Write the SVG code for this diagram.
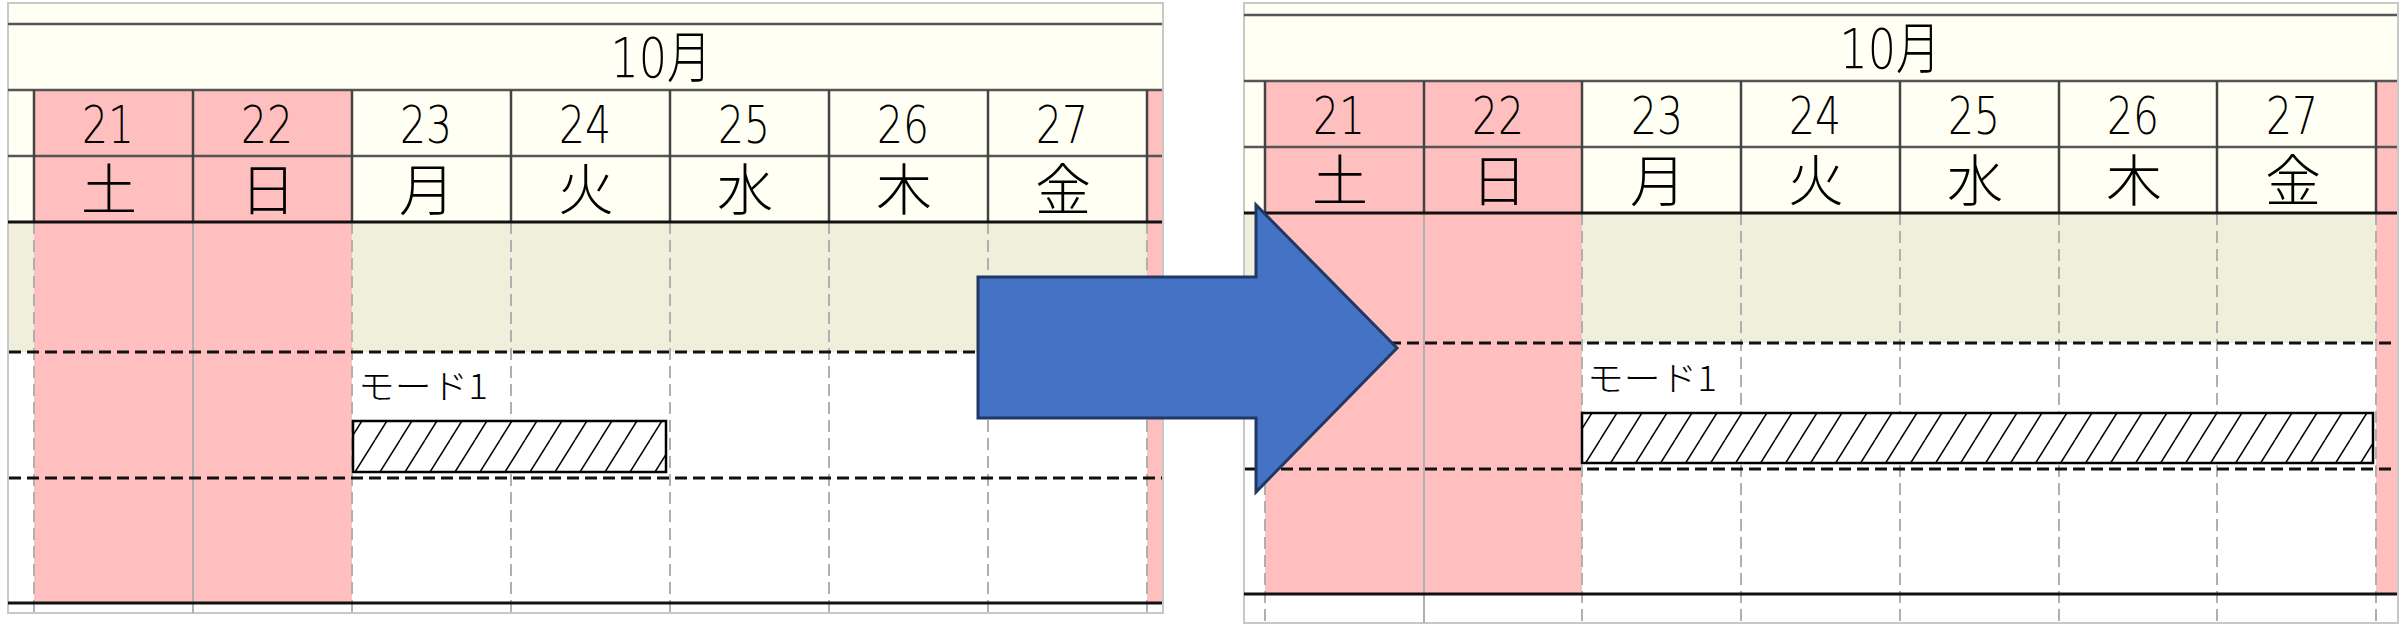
<svg xmlns="http://www.w3.org/2000/svg" width="2404" height="625" viewBox="0 0 2404 625">
<style>
.t{font-family:"DejaVu Sans","Noto Sans CJK JP",sans-serif;fill:#000;font-weight:200}
.mon{font-size:56px}
.num{font-size:52px}
.wd{font-size:56px;font-family:"Noto Sans CJK JP",sans-serif;font-weight:300}
.lbl{font-size:34px;font-family:"Noto Sans CJK JP",sans-serif;font-weight:300}
.border{fill:#fff;stroke:#c8c8c8;stroke-width:2}
.cream{fill:#fffff4}
.pink{fill:#ffbfbf}
.beige{fill:#efefdb}
.hl{stroke:#555;stroke-width:2.5;fill:none}
.hv{stroke:#444;stroke-width:2.5;fill:none}
.blk{stroke:#111;stroke-width:3;fill:none}
.dsh{stroke:#111;stroke-width:3;stroke-dasharray:12 6;fill:none}
.gd{stroke:#b0b0b0;stroke-width:2;stroke-dasharray:12 6;fill:none}
.gs{stroke:#b0b0b0;stroke-width:2;fill:none}
.bar{fill:url(#hatch);stroke:#000;stroke-width:2.5}
</style>
<defs>
<pattern id="hatch" patternUnits="userSpaceOnUse" width="25" height="40">
<rect width="25" height="40" fill="#fff"/>
<path d="M-25,40 L0,0 M0,40 L25,0 M25,40 L50,0" stroke="#000" stroke-width="1.5"/>
</pattern>
</defs>

<g id="left-panel">
<rect class="border" x="8" y="3" width="1155" height="610"/>
<rect class="cream" x="9" y="4" width="1153" height="218"/>
<rect class="pink" x="34" y="90" width="318" height="513"/>
<rect class="pink" x="1147" y="90" width="15" height="513"/>
<rect class="beige" x="9" y="222" width="25" height="130"/>
<rect class="beige" x="352" y="222" width="795" height="130"/>
<line class="hl" x1="8" y1="24" x2="1162" y2="24"/>
<line class="hl" x1="8" y1="90" x2="1162" y2="90"/>
<line class="hl" x1="8" y1="156" x2="1162" y2="156"/>
<path class="hv" d="M34,90V222M193,90V222M352,90V222M511,90V222M670,90V222M829,90V222M988,90V222M1147,90V222"/>
<path class="gd" d="M34,222V613M352,222V613M511,222V613M670,222V613M829,222V613M988,222V613M1147,222V613"/>
<path class="gs" d="M193,222V613"/>
<line class="dsh" x1="9" y1="352" x2="1162" y2="352"/>
<line class="dsh" x1="9" y1="478" x2="1162" y2="478"/>
<line class="blk" x1="8" y1="222" x2="1162" y2="222"/>
<line class="blk" x1="8" y1="603" x2="1162" y2="603"/>
<text class="t mon" x="661" y="77" text-anchor="middle" textLength="101" lengthAdjust="spacingAndGlyphs">10月</text>
<g class="t num" text-anchor="middle">
<text x="108" y="143" textLength="52" lengthAdjust="spacingAndGlyphs">21</text>
<text x="267" y="143" textLength="52" lengthAdjust="spacingAndGlyphs">22</text>
<text x="426" y="143" textLength="52" lengthAdjust="spacingAndGlyphs">23</text>
<text x="585" y="143" textLength="52" lengthAdjust="spacingAndGlyphs">24</text>
<text x="744" y="143" textLength="52" lengthAdjust="spacingAndGlyphs">25</text>
<text x="903" y="143" textLength="52" lengthAdjust="spacingAndGlyphs">26</text>
<text x="1062" y="143" textLength="52" lengthAdjust="spacingAndGlyphs">27</text>
</g>
<g class="t wd" text-anchor="middle">
<text x="109" y="210">土</text>
<text x="268" y="210">日</text>
<text x="427" y="210">月</text>
<text x="586" y="210">火</text>
<text x="745" y="210">水</text>
<text x="904" y="210">木</text>
<text x="1063" y="210">金</text>
</g>
<text class="t lbl" x="358" y="399" textLength="130" lengthAdjust="spacingAndGlyphs">モード1</text>
<rect class="bar" x="353" y="421" width="313" height="51"/>
</g>

<g id="right-panel">
<rect class="border" x="1244" y="3" width="1154" height="620"/>
<rect class="cream" x="1245" y="4" width="1152" height="209"/>
<rect class="pink" x="1265" y="81" width="317" height="513"/>
<rect class="pink" x="2376" y="81" width="21" height="513"/>
<rect class="beige" x="1245" y="213" width="20" height="130"/>
<rect class="beige" x="1582" y="213" width="794" height="130"/>
<line class="hl" x1="1244" y1="15" x2="2397" y2="15"/>
<line class="hl" x1="1244" y1="81" x2="2397" y2="81"/>
<line class="hl" x1="1244" y1="147" x2="2397" y2="147"/>
<path class="hv" d="M1265,81V213M1424,81V213M1582,81V213M1741,81V213M1900,81V213M2059,81V213M2217,81V213M2376,81V213"/>
<path class="gd" d="M1265,213V623M1582,213V623M1741,213V623M1900,213V623M2059,213V623M2217,213V623M2376,213V623"/>
<path class="gs" d="M1424,213V623"/>
<line class="dsh" x1="1245" y1="343" x2="2397" y2="343"/>
<line class="dsh" x1="1245" y1="469" x2="2397" y2="469"/>
<line class="blk" x1="1244" y1="213" x2="2397" y2="213"/>
<line class="blk" x1="1244" y1="594" x2="2397" y2="594"/>
<text class="t mon" x="1890" y="68" text-anchor="middle" textLength="101" lengthAdjust="spacingAndGlyphs">10月</text>
<g class="t num" text-anchor="middle">
<text x="1339" y="134" textLength="52" lengthAdjust="spacingAndGlyphs">21</text>
<text x="1498" y="134" textLength="52" lengthAdjust="spacingAndGlyphs">22</text>
<text x="1657" y="134" textLength="52" lengthAdjust="spacingAndGlyphs">23</text>
<text x="1815" y="134" textLength="52" lengthAdjust="spacingAndGlyphs">24</text>
<text x="1974" y="134" textLength="52" lengthAdjust="spacingAndGlyphs">25</text>
<text x="2133" y="134" textLength="52" lengthAdjust="spacingAndGlyphs">26</text>
<text x="2292" y="134" textLength="52" lengthAdjust="spacingAndGlyphs">27</text>
</g>
<g class="t wd" text-anchor="middle">
<text x="1340" y="201">土</text>
<text x="1499" y="201">日</text>
<text x="1658" y="201">月</text>
<text x="1816" y="201">火</text>
<text x="1975" y="201">水</text>
<text x="2134" y="201">木</text>
<text x="2293" y="201">金</text>
</g>
<text class="t lbl" x="1587" y="391" textLength="130" lengthAdjust="spacingAndGlyphs">モード1</text>
<rect class="bar" x="1582" y="413" width="791" height="50"/>
</g>

<g id="connectors">
<polygon points="978,277 1256,277 1256,205 1397,348 1256,492 1256,418 978,418" fill="#4472c4" stroke="#1f3864" stroke-width="3" stroke-linejoin="miter"/>
</g>
</svg>
